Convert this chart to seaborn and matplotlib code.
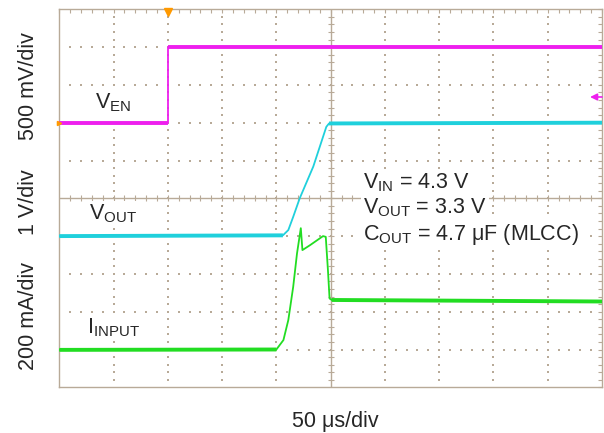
import numpy as np
import pandas as pd
import seaborn as sns
import matplotlib.pyplot as plt
from matplotlib.ticker import MultipleLocator

# scope traces, in screen divisions (10 x 10 grid, 50 us/div horizontally)
ven_t = [0.0, 2.0, 2.0, 10.0]
ven_v = [7.0, 7.0, 9.0, 9.0]

vout_t = [0.0, 4.12, 4.22, 4.31, 4.43, 4.68, 4.92, 4.97, 10.0]
vout_v = [4.0, 4.02, 4.16, 4.51, 5.0, 5.84, 6.89, 6.98, 7.0]

iin_t = [0.0, 4.0, 4.13, 4.22, 4.31, 4.38, 4.45, 4.48, 4.62, 4.86, 4.91, 4.95, 4.98, 5.02, 10.0]
iin_v = [0.99, 1.0, 1.25, 1.78, 2.66, 3.54, 4.21, 3.63, 3.76, 4.0, 3.98, 3.10, 2.35, 2.31, 2.27]

trigger_t = 2.0
ven_ref = 7.68

sns.set_style("white")
plt.rcParams["font.family"] = ["Liberation Sans", "DejaVu Sans"]
plt.rcParams["mathtext.fontset"] = "custom"
plt.rcParams["mathtext.rm"] = "Liberation Sans"
plt.rcParams["mathtext.it"] = "Liberation Sans"

grid_col = "#b8aa98"
magenta = "#ee1fee"
cyan = "#1fd0dc"
green = "#22dd22"

fig = plt.figure(figsize=(6.04, 4.33), dpi=100)
ax = fig.add_axes([59.3 / 604, (433 - 387.3) / 433, (602 - 59.3) / 604, (387.3 - 9.3) / 433])
ax.set_xlim(0, 10)
ax.set_ylim(0, 10)

# graticule
for s in ax.spines.values():
    s.set_color(grid_col)
    s.set_linewidth(1)
ax.xaxis.set_major_locator(MultipleLocator(1))
ax.yaxis.set_major_locator(MultipleLocator(1))
ax.xaxis.set_minor_locator(MultipleLocator(0.2))
ax.yaxis.set_minor_locator(MultipleLocator(0.2))
ax.tick_params(which="both", direction="in", top=True, right=True, length=3,
               width=0.8, color=grid_col, labelbottom=False, labelleft=False)

minor = np.arange(0.2, 10, 0.2)
major = [m for m in range(1, 10) if m != 5]
gx, gy = np.meshgrid(major, minor)
ax.scatter(gx.ravel(), gy.ravel(), s=1.2, marker="s", color=grid_col, linewidths=0, zorder=1)
ax.scatter(gy.ravel(), gx.ravel(), s=1.2, marker="s", color=grid_col, linewidths=0, zorder=1)
ax.axhline(5, color=grid_col, lw=1, zorder=1)
ax.axvline(5, color=grid_col, lw=1, zorder=1)
ax.vlines(minor, 4.92, 5.08, color=grid_col, lw=0.8, zorder=1)
ax.hlines(minor, 4.945, 5.055, color=grid_col, lw=0.8, zorder=1)

# traces: thin for the edges, thicker (noisy look) on the settled levels
traces = [(ven_t, ven_v, magenta), (vout_t, vout_v, cyan), (iin_t, iin_v, green)]
for t, v, c in traces:
    df = pd.DataFrame({"t": t, "v": v})
    sns.lineplot(data=df, x="t", y="v", ax=ax, color=c, lw=1.3, sort=False, estimator=None, zorder=6)
    for part in (df.iloc[:2], df.iloc[-2:]):
        sns.lineplot(data=part, x="t", y="v", ax=ax, color=c, lw=2.8, sort=False,
                     estimator=None, zorder=6, solid_capstyle="butt")
ax.set_xlabel("")
ax.set_ylabel("")

# markers
ax.plot([trigger_t], [9.93], marker="v", color="#ff9900", ms=6, clip_on=False, zorder=7)
ax.plot([0.0], [ven_v[0]], marker=">", color="#ff9900", ms=3, clip_on=False, zorder=7)
ax.annotate("", xy=(9.78, ven_ref), xytext=(10.0, ven_ref),
            arrowprops=dict(arrowstyle="-|>", color=magenta, lw=1.2, mutation_scale=10,
                            shrinkA=0, shrinkB=0), zorder=7)

box = dict(facecolor="white", edgecolor="none", pad=1.5)
fs = 15.5
ax.text(0.66, 7.39, r"$\mathrm{V}_{\mathrm{EN}}$", fontsize=fs, va="baseline", bbox=box, zorder=5)
ax.text(0.55, 4.43, r"$\mathrm{V}_{\mathrm{OUT}}$", fontsize=fs, va="baseline", bbox=box, zorder=5)
ax.text(0.51, 1.43, r"$\mathrm{I}_{\mathrm{INPUT}}$", fontsize=fs, va="baseline", bbox=box, zorder=5)

notes = [r"$\mathrm{V}_{\mathrm{IN}}$ = 4.3 V",
         r"$\mathrm{V}_{\mathrm{OUT}}$ = 3.3 V",
         r"$\mathrm{C}_{\mathrm{OUT}}$ = 4.7 μF (MLCC)"]
for txt, yb in zip(notes, [5.26, 4.60, 3.90]):
    ax.text(5.60, yb, txt, fontsize=fs, va="baseline", bbox=box, zorder=5)

# channel scales
for lab, yc in zip(["500 mV/div", "1 V/div", "200 mA/div"], [86, 202, 316]):
    fig.text(28 / 604, 1 - yc / 433, lab, rotation=90, ha="center", va="center", fontsize=fs)
fig.text(291.7 / 604, (433 - 426.7) / 433, "50 μs/div", ha="left", va="baseline", fontsize=fs)

fig.savefig("out.png", dpi=100, facecolor="white")
